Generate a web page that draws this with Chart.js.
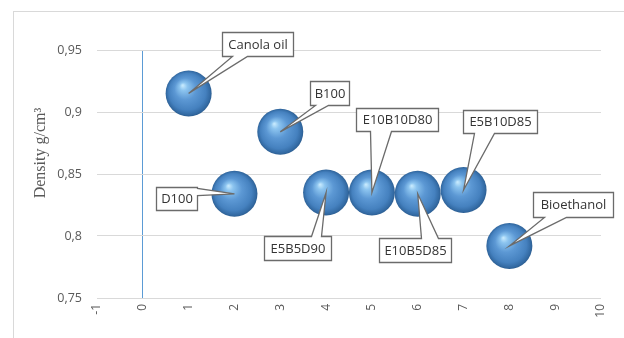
<!DOCTYPE html>
<html>
<head>
<meta charset="utf-8">
<script src="https://cdn.jsdelivr.net/npm/chart.js@4/dist/chart.umd.min.js"></script>
<style>
  html, body { margin: 0; padding: 0; background: #ffffff; }
  #wrap { width: 624px; height: 338px; position: relative; }
</style>
</head>
<body>
<div id="wrap"><canvas id="c" width="624" height="338"></canvas></div>
<script>
// Fuel samples and their measured density (g/cm3)
const fuels = ['Canola oil', 'D100', 'B100', 'E5B5D90', 'E10B10D80', 'E10B5D85', 'E5B10D85', 'Bioethanol'];
const sampleIndex = [1, 2, 3, 4, 5, 6, 7, 8];
const density = [0.915, 0.834, 0.884, 0.835, 0.835, 0.834, 0.837, 0.792];

// Axis ticks and title
const yTicks = [0.75, 0.8, 0.85, 0.9, 0.95];
const yTickLabels = ['0,75', '0,8', '0,85', '0,9', '0,95'];
const xTickLabels = ['-1', '0', '1', '2', '3', '4', '5', '6', '7', '8', '9', '10'];
const yTitle = 'Density g/cm³';

// Callout placement for each label, relative to its bubble centre
// (box offset, box size, side the pointer leaves from, pointer base span)
const callouts = {
  'Canola oil': { dx: 33, dy: -61, w: 71, h: 24, side: 'bottom', a: 10, b: 25 },
  'B100':       { dx: 30, dy: -51, w: 39, h: 24, side: 'bottom', a: 5,  b: 18 },
  'D100':       { dx: -78, dy: -7, w: 41, h: 23, side: 'right',  a: 1,  b: 8 },
  'E5B5D90':    { dx: -62, dy: 43, w: 67, h: 24, side: 'top',    a: 47, b: 57 },
  'E10B10D80':  { dx: -16, dy: -85, w: 82, h: 23, side: 'bottom', a: 14, b: 35 },
  'E10B5D85':   { dx: -39, dy: 44, w: 72, h: 24, side: 'top',    a: 42, b: 59 },
  'E5B10D85':   { dx: -1, dy: -80, w: 74, h: 23, side: 'bottom', a: 11, b: 31 },
  'Bioethanol': { dx: 24, dy: -54, w: 80, h: 25, side: 'bottom', a: 11, b: 33 }
};

const points = fuels.map((name, i) => ({ x: sampleIndex[i], y: density[i], name }));

function sphereFill(ctx) {
  if (ctx.type !== 'data') return '#5592cf';
  const chart = ctx.chart;
  const xs = chart.scales.x, ys = chart.scales.y;
  if (!xs || !ys || !ctx.parsed) return '#5592cf';
  const px = xs.getPixelForValue(ctx.parsed.x);
  const py = ys.getPixelForValue(ctx.parsed.y);
  if (!isFinite(px) || !isFinite(py)) return '#5592cf';
  const g = chart.ctx.createRadialGradient(px - 6, py - 8, 0.5, px, py, 23.5);
  g.addColorStop(0, '#c4e8fd');
  g.addColorStop(0.15, '#8cc4ef');
  g.addColorStop(0.45, '#5c98d4');
  g.addColorStop(0.78, '#4581bf');
  g.addColorStop(0.93, '#336aa3');
  g.addColorStop(1, '#2a5a8c');
  return g;
}

const frame = {
  id: 'frame',
  beforeDraw(chart) {
    const c = chart.ctx;
    c.save();
    c.fillStyle = '#ffffff';
    c.fillRect(0, 0, chart.width, chart.height);
    c.strokeStyle = '#d9d9d9';
    c.lineWidth = 1;
    c.strokeRect(13.5, 11.5, chart.width + 20, chart.height + 20);
    c.restore();
  },
  afterDraw(chart) {
    // vertical axis title
    const c = chart.ctx;
    c.save();
    c.translate(41, 153);
    c.rotate(-Math.PI / 2);
    c.fillStyle = '#595959';
    c.font = '16px "Liberation Serif", "Times New Roman", serif';
    c.textAlign = 'center';
    c.textBaseline = 'middle';
    c.fillText(yTitle, 0, 0);
    c.restore();
  }
};

const calloutPlugin = {
  id: 'callouts',
  afterDatasetsDraw(chart) {
    const c = chart.ctx;
    const meta = chart.getDatasetMeta(0);
    c.save();
    meta.data.forEach((el, i) => {
      const name = fuels[i];
      const s = callouts[name];
      const px = el.x, py = el.y;
      const l = Math.round(px + s.dx) + 0.5, t = Math.round(py + s.dy) + 0.5;
      const w = s.w, h = s.h;
      c.beginPath();
      if (s.side === 'bottom') {
        c.moveTo(l, t); c.lineTo(l + w, t); c.lineTo(l + w, t + h);
        c.lineTo(l + s.b, t + h); c.lineTo(px, py); c.lineTo(l + s.a, t + h);
        c.lineTo(l, t + h);
      } else if (s.side === 'top') {
        c.moveTo(l, t); c.lineTo(l + s.a, t); c.lineTo(px, py); c.lineTo(l + s.b, t);
        c.lineTo(l + w, t); c.lineTo(l + w, t + h); c.lineTo(l, t + h);
      } else if (s.side === 'right') {
        c.moveTo(l, t); c.lineTo(l + w, t); c.lineTo(l + w, t + s.a); c.lineTo(px, py);
        c.lineTo(l + w, t + s.b); c.lineTo(l + w, t + h); c.lineTo(l, t + h);
      } else {
        c.moveTo(l, t); c.lineTo(l + w, t); c.lineTo(l + w, t + h); c.lineTo(l, t + h);
        c.lineTo(l, t + s.b); c.lineTo(px, py); c.lineTo(l, t + s.a);
      }
      c.closePath();
      c.fillStyle = '#ffffff';
      c.fill();
      c.strokeStyle = '#6b6b6b';
      c.lineWidth = 1.3;
      c.lineJoin = 'miter';
      c.stroke();
      c.fillStyle = '#333333';
      c.font = '13px "Open Sans", sans-serif';
      c.textAlign = 'center';
      c.textBaseline = 'middle';
      c.fillText(name, l + w / 2, t + h / 2 + 0.5);
    });
    c.restore();
  }
};

new Chart(document.getElementById('c'), {
  type: 'scatter',
  data: {
    datasets: [{
      data: points,
      pointRadius: 23,
      pointHoverRadius: 23,
      borderWidth: 0,
      pointBorderWidth: 0,
      backgroundColor: sphereFill,
      hoverBackgroundColor: sphereFill
    }]
  },
  options: {
    responsive: false,
    animation: false,
    events: [],
    layout: { padding: { left: 0, right: 16, top: 50, bottom: 0 } },
    plugins: { legend: { display: false }, tooltip: { enabled: false } },
    scales: {
      x: {
        type: 'linear',
        min: -1,
        max: 10,
        border: { display: false },
        grid: {
          drawTicks: false,
          color: (ctx) => (ctx.tick && ctx.tick.value === 0 ? '#5b9bd5' : 'rgba(0,0,0,0)'),
          lineWidth: 1
        },
        ticks: {
          stepSize: 1,
          minRotation: 90,
          maxRotation: 90,
          padding: 6,
          color: '#595959',
          font: { family: '"Open Sans", sans-serif', size: 12 },
          callback: (v) => xTickLabels[Math.round(v) + 1]
        },
        afterFit: (scale) => { scale.height = 40; }
      },
      y: {
        type: 'linear',
        min: 0.75,
        max: 0.95,
        border: { display: false },
        grid: { drawTicks: false, color: '#d9d9d9', lineWidth: 1 },
        ticks: {
          stepSize: 0.05,
          padding: 15,
          color: '#595959',
          font: { family: '"Open Sans", sans-serif', size: 12.5 },
          callback: (v) => {
            const k = yTicks.findIndex((t) => Math.abs(t - v) < 1e-6);
            return k >= 0 ? yTickLabels[k] : '';
          }
        },
        afterFit: (scale) => { scale.width = 97; }
      }
    }
  },
  plugins: [frame, calloutPlugin]
});
</script>
</body>
</html>
